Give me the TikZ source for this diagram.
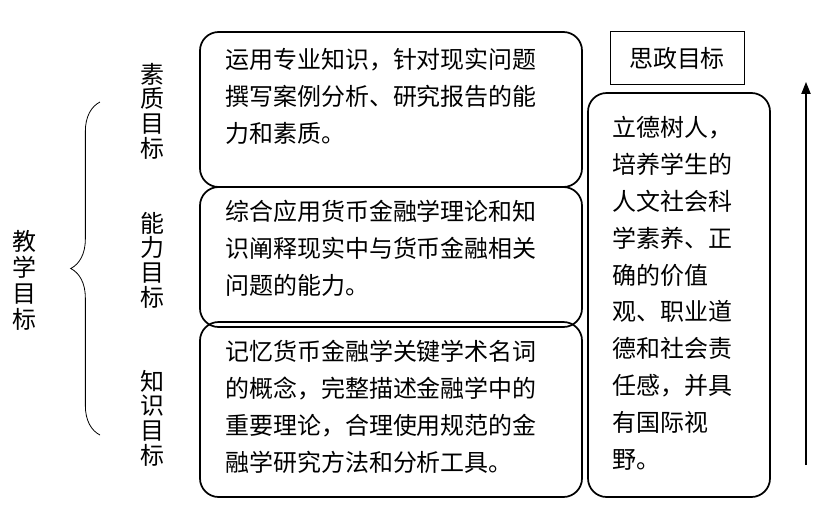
\documentclass[tikz,border=0pt]{standalone}
\usepackage{fontspec}
\setmainfont{Noto Sans CJK SC}
\usetikzlibrary{arrows.meta,decorations.pathreplacing}
\tikzset{
    goalbox/.style={draw, line width=1.3pt, rounded corners=14pt}, % 圆角框
    goaltext/.style={anchor=north west, align=left, inner sep=0pt, font=\fontsize{18}{27.7}\selectfont},
    sidelabel/.style={align=center, inner sep=0pt, font=\fontsize{18}{18.5}\selectfont}
}
\begin{document}
\begin{tikzpicture}[x=0.0264cm, y=-0.0264cm]
    \useasboundingbox (0,0) rectangle (831,524);

    % 左侧标签与括号
    \node[sidelabel, font=\fontsize{18}{19.5}\selectfont] (jxmb) at (24,280) {教\\学\\目\\标};
    \draw[line width=0.6pt, decorate, decoration={brace, amplitude=22pt, mirror}]
        (100,102) -- (100,435);
    \node[sidelabel] (szmb) at (152,111) {素\\质\\目\\标};
    \node[sidelabel] (nlmb) at (152,260) {能\\力\\目\\标};
    \node[sidelabel] (zsmb) at (152,418) {知\\识\\目\\标};

    % 中间三个框
    \draw[goalbox] (200,32) rectangle (582,187);
    \draw[goalbox] (200,187) rectangle (582,327);
    \draw[goalbox] (200,322) rectangle (582,497);
    \node[goaltext] (t1) at (225,48) {运用专业知识，针对现实问题\\撰写案例分析、研究报告的能\\力和素质。};
    \node[goaltext] (t2) at (225,200) {综合应用货币金融学理论和知\\识阐释现实中与货币金融相关\\问题的能力。};
    \node[goaltext] (t3) at (225,340) {记忆货币金融学关键学术名词\\的概念，完整描述金融学中的\\重要理论，合理使用规范的金\\融学研究方法和分析工具。};

    % 思政目标
    \node[draw, line width=0.6pt, minimum width=134\pgflinewidth, inner sep=0pt,
          minimum width=3.54cm, minimum height=1.4cm, font=\fontsize{18}{20}\selectfont]
          (szbt) at (677,58) {思政目标};
    \draw[goalbox] (588,93) rectangle (770,497);
    \node[goaltext] (t4) at (612,116) {立德树人，\\培养学生的\\人文社会科\\学素养、正\\确的价值\\观、职业道\\德和社会责\\任感，并具\\有国际视\\野。};

    % 右侧箭头
    \coordinate (alow) at (806,465);
    \coordinate (ahigh) at (806,82);
    \draw[line width=0.8pt, -{Triangle[length=9pt,width=7pt]}] (alow) -- (ahigh);
\end{tikzpicture}
\end{document}
